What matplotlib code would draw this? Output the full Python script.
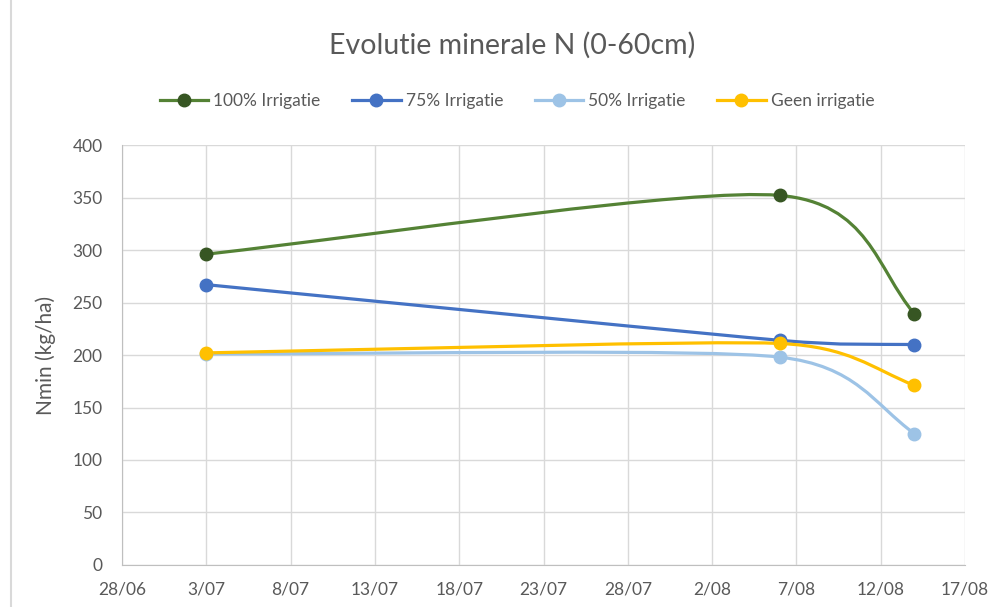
import datetime as dt
import numpy as np
import matplotlib
matplotlib.use('Agg')
import matplotlib.pyplot as plt
import matplotlib.dates as mdates
from matplotlib.path import Path
from matplotlib.patches import PathPatch
from matplotlib.lines import Line2D

plt.rcParams['font.family'] = ['Lato', 'DejaVu Sans']

# data
dates = [dt.date(2024, 7, 3), dt.date(2024, 8, 6), dt.date(2024, 8, 14)]
irr100 = [296, 352, 239]
irr75 = [267, 214, 210]
irr50 = [201, 198, 125]
geen = [202, 211, 171]

labels = ['100% Irrigatie', '75% Irrigatie', '50% Irrigatie', 'Geen irrigatie']
line_colors = ['#548235', '#4472C4', '#9DC3E6', '#FFC000']
marker_colors = ['#375623', '#4472C4', '#9DC3E6', '#FFC000']
tick_dates = [dt.date(2024, 6, 28) + dt.timedelta(days=5 * i) for i in range(11)]

grey = '#595959'
fig = plt.figure(figsize=(10.04, 6.07), dpi=100)
ax = fig.add_axes([0.1215, 0.0692, 0.8397, 0.6919])
ax.set_xlim(mdates.date2num(tick_dates[0]), mdates.date2num(tick_dates[-1]))
ax.set_ylim(0, 400)


def unit(v):
    return v / np.hypot(*v)


def smooth_path(x, y):
    # excel-style smoothed line, control points worked out in screen space
    p = ax.transData.transform(np.column_stack([x, y]))
    n = len(p)
    outc = [None] * n
    inc = [None] * n
    for i in range(1, n - 1):
        u = unit(p[i + 1] - p[i - 1])
        m = 0.5 * min(np.hypot(*(p[i] - p[i - 1])), np.hypot(*(p[i + 1] - p[i])))
        inc[i] = p[i] - u * m
        outc[i] = p[i] + u * m
    # end points
    d = p[1] - p[0]
    ref = inc[1] if n > 2 else p[1]
    u = unit(2 * unit(d) + unit(ref - p[0]))
    outc[0] = p[0] + u * np.hypot(*d) / 3
    d = p[-1] - p[-2]
    ref = outc[-2] if n > 2 else p[-2]
    u = unit(2 * unit(d) + unit(p[-1] - ref))
    inc[-1] = p[-1] - u * np.hypot(*d) / 3
    verts = [p[0]]
    codes = [Path.MOVETO]
    for i in range(n - 1):
        verts += [outc[i], inc[i + 1], p[i + 1]]
        codes += [Path.CURVE4] * 3
    verts = ax.transData.inverted().transform(np.array(verts))
    return Path(verts, codes)


xnum = mdates.date2num(dates)
series = [irr100, irr75, irr50, geen]
handles = []
for vals, lc, mc, lab in zip(series, line_colors, marker_colors, labels):
    ax.add_patch(PathPatch(smooth_path(xnum, vals), facecolor='none',
                           edgecolor=lc, lw=2.3, capstyle='round', zorder=3))
    ax.plot(dates, vals, linestyle='none', marker='o', ms=9,
            color=mc, zorder=4)
    handles.append(Line2D([], [], color=lc, lw=2.3, marker='o', ms=9,
                          markerfacecolor=mc, markeredgecolor=mc))

ax.set_xticks(tick_dates)
ax.set_xticklabels([f'{d.day}/{d.month:02d}' for d in tick_dates])
ax.set_yticks(range(0, 401, 50))
ax.grid(True, color='#D9D9D9', lw=1)
ax.set_axisbelow(True)
for s in ['top', 'right']:
    ax.spines[s].set_visible(False)
for s in ['left', 'bottom']:
    ax.spines[s].set_color('#BFBFBF')
ax.tick_params(length=0, colors=grey, labelsize=12.5)
ax.tick_params(axis='x', pad=12)
ax.tick_params(axis='y', pad=14)
ax.set_ylabel('Nmin (kg/ha)', color=grey, fontsize=15, labelpad=12)

fig.text(0.51, 0.925, 'Evolutie minerale N (0-60cm)', ha='center',
         va='center', fontsize=20.5, color=grey)
fig.legend(handles, labels, loc='center', bbox_to_anchor=(0.515, 0.834),
           ncol=4, frameon=False, fontsize=12.5, labelcolor=grey,
           handlelength=2.8, columnspacing=1.8, handletextpad=0.3)

fig.add_artist(Line2D([0.011, 0.011], [0, 1], color='#D9D9D9', lw=1.5))

fig.savefig('out.png', dpi=100)
